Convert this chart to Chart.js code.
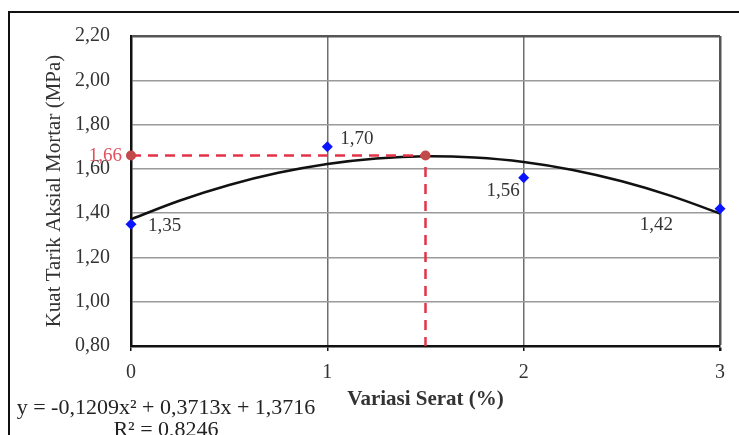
<!DOCTYPE html>
<html>
<head>
<meta charset="utf-8">
<script src="https://cdn.jsdelivr.net/npm/chart.js@4.4.0/dist/chart.umd.min.js"></script>
<style>
  html, body { margin: 0; padding: 0; background: #fff; }
  #wrap { position: relative; width: 739px; height: 435px; }
</style>
</head>
<body>
<div id="wrap"><canvas id="chart"></canvas></div>
<script>
// measured values: tensile strength vs fibre content
var FIBER_X = [0, 1, 2, 3];
var STRENGTH = [1.35, 1.70, 1.56, 1.42];

// polynomial trendline
var TREND_X = [0, 0.25, 0.5, 0.75, 1, 1.25, 1.5, 1.75, 2, 2.25, 2.5, 2.75, 3];
var TREND_Y = [1.372, 1.457, 1.527, 1.582, 1.622, 1.647, 1.657, 1.651, 1.631, 1.595, 1.544, 1.478, 1.398];

// red guide to the peak of the trendline
var PEAK_X = [0, 1.5, 1.5];
var PEAK_Y = [1.66, 1.66, 0.80];

var Y_MIN = 0.80, Y_MAX = 2.20, Y_STEP = 0.20;
var X_MIN = 0, X_MAX = 3, X_STEP = 1;

var EQUATION = 'y = -0,1209x² + 0,3713x + 1,3716';
var R_SQUARED = 'R² = 0,8246';

var SERIF = '"Liberation Serif", "Times New Roman", serif';

function formatComma(v) {
  return v.toFixed(2).replace('.', ',');
}

function toPoints(xs, ys) {
  return xs.map(function (x, i) { return { x: x, y: ys[i] }; });
}

// where each value label sits relative to its marker
var LABEL_OFFSETS = [
  { dx: 17, dy: 2, align: 'left' },
  { dx: 13, dy: -8, align: 'left' },
  { dx: -4, dy: 13, align: 'right' },
  { dx: -47, dy: 16, align: 'right' },
];

var annotations = {
  id: 'annotations',
  afterDatasetsDraw: function (chart) {
    var ctx = chart.ctx;
    var meta = chart.getDatasetMeta(0);
    ctx.save();
    ctx.font = '19px ' + SERIF;
    ctx.fillStyle = '#333';
    ctx.textBaseline = 'middle';
    meta.data.forEach(function (pt, i) {
      var o = LABEL_OFFSETS[i];
      ctx.textAlign = o.align;
      ctx.fillText(formatComma(STRENGTH[i]), pt.x + o.dx, pt.y + o.dy);
    });

    // red peak value next to the y axis
    var py = chart.scales.y.getPixelForValue(PEAK_Y[0]);
    ctx.font = '19px ' + SERIF;
    ctx.fillStyle = '#e0505f';
    ctx.textAlign = 'right';
    ctx.fillText(formatComma(PEAK_Y[0]), chart.chartArea.left - 9, py);
    ctx.restore();
  },
  afterDraw: function (chart) {
    var ctx = chart.ctx;
    ctx.save();
    // outer frame (left and top only are visible)
    ctx.strokeStyle = '#111';
    ctx.lineWidth = 2;
    ctx.beginPath();
    ctx.moveTo(9, 435);
    ctx.lineTo(9, 12);
    ctx.lineTo(739, 12);
    ctx.stroke();

    // trendline equation
    ctx.font = '22px ' + SERIF;
    ctx.fillStyle = '#222';
    ctx.textAlign = 'center';
    ctx.textBaseline = 'middle';
    ctx.fillText(EQUATION, 166, 408);
    ctx.fillText(R_SQUARED, 166, 430);
    ctx.restore();
  },
};

function isTick(ctx, value) {
  return ctx.tick && Math.abs(ctx.tick.value - value) < 1e-6;
}

new Chart(document.getElementById('chart'), {
  type: 'scatter',
  data: {
    datasets: [
      {
        label: 'Kuat Tarik',
        data: toPoints(FIBER_X, STRENGTH),
        pointStyle: 'rectRot',
        pointRadius: 5.5,
        backgroundColor: '#0a14ff',
        borderColor: '#0a14ff',
        borderWidth: 0,
        clip: false,
      },
      {
        label: 'Puncak',
        data: toPoints(PEAK_X, PEAK_Y),
        showLine: true,
        borderColor: '#e33345',
        borderWidth: 2.5,
        borderDash: [10, 7],
        pointRadius: [5, 5, 0],
        pointBackgroundColor: '#c24a4a',
        pointBorderWidth: 0,
        clip: false,
      },
      {
        label: 'Trendline',
        data: toPoints(TREND_X, TREND_Y),
        showLine: true,
        borderColor: '#111',
        borderWidth: 2.5,
        pointRadius: 0,
        tension: 0.4,
        clip: false,
      },
    ],
  },
  options: {
    responsive: true,
    maintainAspectRatio: false,
    devicePixelRatio: 1,
    animation: false,
    layout: { padding: { top: 36, right: 19, left: 0, bottom: 0 } },
    plugins: {
      legend: { display: false },
      tooltip: { enabled: false },
    },
    scales: {
      x: {
        type: 'linear',
        min: X_MIN,
        max: X_MAX,
        afterFit: function (scale) { scale.height = 89; },
        ticks: {
          stepSize: X_STEP,
          color: '#333',
          font: { family: SERIF, size: 20 },
          padding: 10,
        },
        grid: {
          color: function (ctx) { return isTick(ctx, X_MAX) ? '#555' : '#6e6e6e'; },
          lineWidth: function (ctx) { return isTick(ctx, X_MAX) ? 2.5 : 1.5; },
          tickColor: '#111',
          tickLength: 5,
        },
        border: { color: '#111', width: 2.5 },
        title: {
          display: true,
          text: 'Variasi Serat (%)',
          color: '#333',
          font: { family: SERIF, size: 21, weight: '600' },
          padding: { bottom: 23, top: 0 },
        },
      },
      y: {
        min: Y_MIN,
        max: Y_MAX,
        afterFit: function (scale) { scale.width = 131; },
        ticks: {
          stepSize: Y_STEP,
          color: '#333',
          font: { family: SERIF, size: 20 },
          padding: 21,
          callback: function (v) { return formatComma(v); },
        },
        grid: {
          drawTicks: false,
          color: function (ctx) { return isTick(ctx, Y_MAX) ? '#555' : '#9a9a9a'; },
          lineWidth: function (ctx) { return isTick(ctx, Y_MAX) ? 2.5 : 1.5; },
        },
        border: { color: '#111', width: 2.5 },
        title: {
          display: true,
          text: 'Kuat Tarik Aksial Mortar (MPa)',
          color: '#333',
          font: { family: SERIF, size: 21 },
          padding: { top: 42, bottom: 0 },
        },
      },
    },
  },
  plugins: [annotations],
});
</script>
</body>
</html>
